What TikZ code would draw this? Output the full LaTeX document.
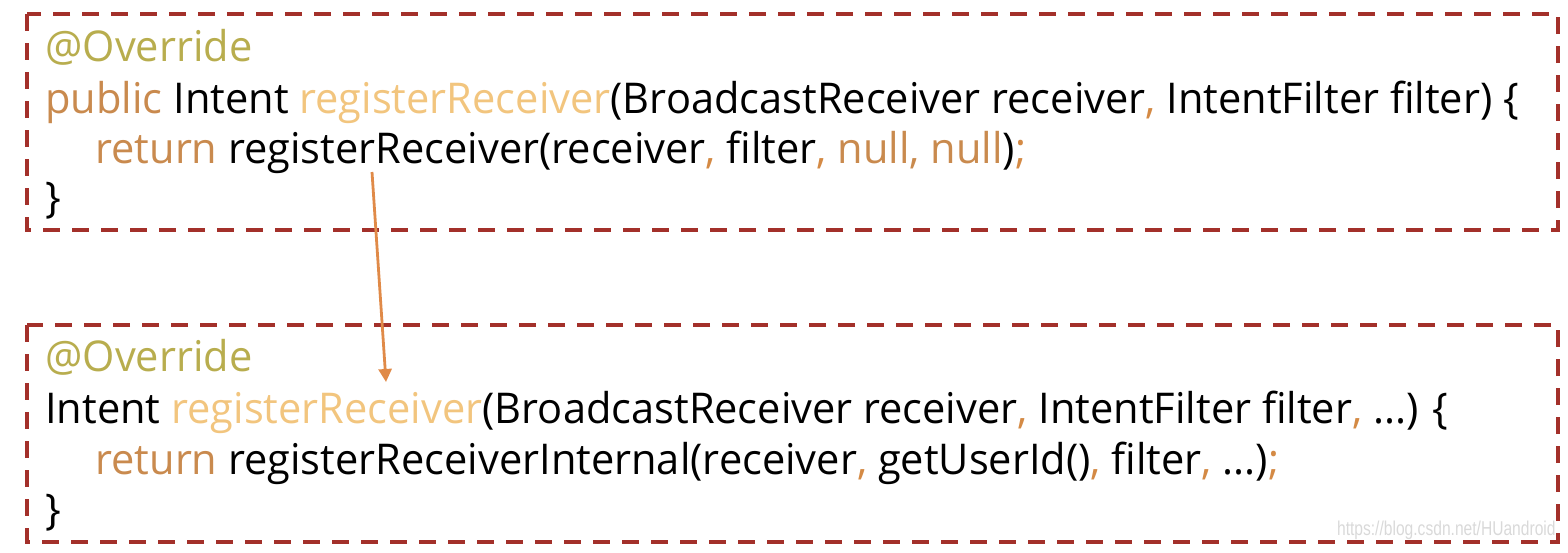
\documentclass[tikz,border=0pt]{standalone}
\usepackage{fontspec}
\setmainfont{Open Sans}[FakeStretch=0.98]
\newfontfamily\markfont{Liberation Sans}[FakeStretch=0.78]
\usetikzlibrary{arrows.meta}
\definecolor{boxred}{HTML}{A3302A}
\definecolor{annot}{HTML}{B8AD4E}
\definecolor{kw}{HTML}{C98A4E}
\definecolor{fname}{HTML}{F2C57E}
\definecolor{punct}{HTML}{D48A45}
\definecolor{callarrow}{HTML}{E08A48}
\newcommand{\an}[1]{\textcolor{annot}{#1}}
\newcommand{\kw}[1]{\textcolor{kw}{#1}}
\newcommand{\fn}[1]{\textcolor{fname}{#1}}
\newcommand{\pc}[1]{\textcolor{punct}{#1}}
\tikzset{
  codebox/.style={draw=boxred, line width=2pt, dash pattern=on 8.5pt off 6pt},
  codeline/.style={anchor=base west, inner sep=0pt, font=\fontsize{21.2}{25}\selectfont},
}
\begin{document}
\begin{tikzpicture}[x=0.5pt,y=-0.5pt]
  \useasboundingbox (0,0) rectangle (1568,552);
  % the two dashed boxes
  \draw[codebox] (27,14) rectangle (1558,230);
  \draw[codebox] (27,325) rectangle (1558,542);
  % public registerReceiver
  \node[codeline] (ovA) at (45,61) {\an{@Override}};
  \node[codeline] (sigA) at (45,113) {\kw{public} Intent \fn{registerReceiver}(BroadcastReceiver receiver\pc{,} IntentFilter filter) \{};
  \node[codeline] (retA) at (95,163) {\kw{return} registerReceiver(receiver\pc{,} filter\pc{,} \kw{null, null})\pc{;}};
  \node[codeline] (endA) at (45,212) {\}};
  % package registerReceiver
  \node[codeline] (ovB) at (45,371) {\an{@Override}};
  \node[codeline] (sigB) at (45,423) {Intent \fn{registerReceiver}(BroadcastReceiver receiver\pc{,} IntentFilter filter\pc{,} ...) \{};
  \node[codeline] (retB) at (95,474) {\kw{return} registerReceiverInternal(receiver\pc{,} getUserId()\pc{,} filter\pc{,} ...)\pc{;}};
  \node[codeline] (endB) at (45,524) {\}};
  \node[anchor=base east, inner sep=0pt, text=black!15, font=\markfont\fontsize{10}{12}\selectfont] (mark) at (1556,535) {https://blog.csdn.net/HUandroid};
  % call arrow
  \coordinate (call) at (372,172);
  \coordinate (decl) at (386,382);
  \draw[callarrow, line width=1.4pt, -{Triangle[width=6.5pt,length=6.5pt]}] (call) -- (decl);
\end{tikzpicture}
\end{document}
